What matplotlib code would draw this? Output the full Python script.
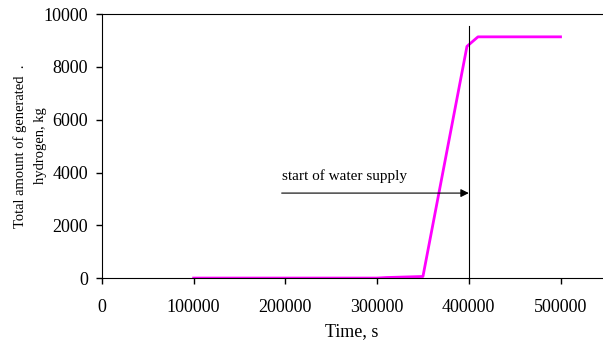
import numpy as np
import matplotlib.pyplot as plt

plt.rcParams['font.family'] = ['Liberation Serif', 'DejaVu Serif']

# time (s) and total generated hydrogen (kg)
time_s = [100000, 200000, 300000, 310000, 350000, 398000, 410000, 500000]
h2_kg = [0, 0, 0, 20, 60, 8780, 9140, 9140]

water_start = 400000

fig = plt.figure(figsize=(6.03, 3.45), dpi=100)
ax = fig.add_axes([0.169, 0.194, 0.829, 0.765])

ax.plot(time_s, h2_kg, color='#ff00ff', lw=2)

ax.plot([water_start, water_start], [0, 9550], color='black', lw=0.8)
ax.annotate('', xy=(water_start, 3220), xytext=(196000, 3220),
            arrowprops=dict(arrowstyle='-|>', color='black', lw=0.8,
                            mutation_scale=12, shrinkA=0, shrinkB=0))
ax.text(196000, 3600, 'start of water supply', fontsize=11, va='bottom')

ax.set_xlim(0, 545000)
ax.set_ylim(0, 10000)
ax.set_xticks(np.arange(0, 500001, 100000))
ax.set_yticks(np.arange(0, 10001, 2000))
ax.tick_params(direction='out', length=4, labelsize=13, width=1)
ax.tick_params(axis='x', pad=11)
ax.tick_params(axis='y', pad=6)
ax.spines['right'].set_visible(False)

ax.set_xlabel('Time, s', fontsize=13, labelpad=5)
ax.set_ylabel('Total amount of generated  .\nhydrogen, kg', fontsize=10.5,
              linespacing=1.7, labelpad=-2.5)

fig.savefig('out.png', dpi=100)
